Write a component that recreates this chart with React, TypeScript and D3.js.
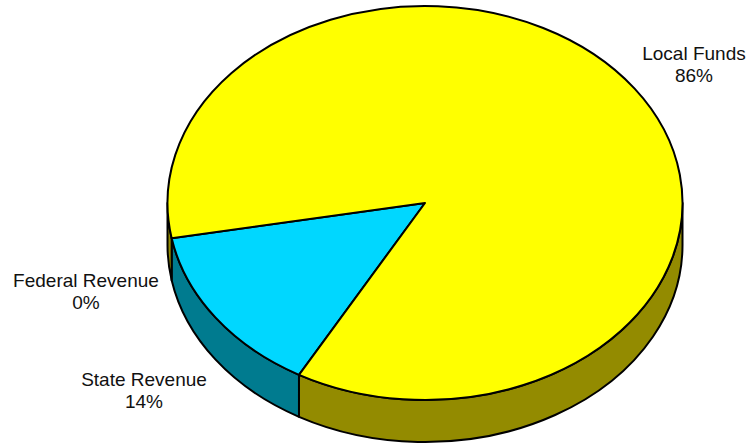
import React from "react";
import * as d3 from "d3";

const categories = ["State Revenue", "Federal Revenue", "Local Funds"];
const values = [14, 0, 86];
const percentLabels = ["14%", "0%", "86%"];
const topColors = ["#00D7FF", "#00D7FF", "#FFFF00"];
const sideColors = ["#007B8F", "#007B8F", "#938B00"];

const W = 747;
const H = 446;
const cx = 425;
const cy = 203;
const rx = 257.5;
const ry = 197;
const depth = 42;
const startDeg = 209.3;

const labelPos: Record<string, [number, number]> = {
  "Local Funds": [694, 60],
  "Federal Revenue": [86, 287],
  "State Revenue": [144, 386],
};

function pt(theta: number, dy: number): [number, number] {
  return [cx + rx * Math.cos(theta), cy + dy + ry * Math.sin(theta)];
}

export default function App() {
  const pie = d3
    .pie<number>()
    .sort(null)
    .value((d) => d)
    .startAngle((startDeg * Math.PI) / 180)
    .endAngle((startDeg * Math.PI) / 180 + 2 * Math.PI);
  const arcs = pie(values);

  const sides: { d: string; fill: string; key: string }[] = [];
  const tops: { d: string; fill: string; key: string }[] = [];

  arcs.forEach((a, i) => {
    const t0 = a.startAngle - Math.PI / 2;
    const t1 = a.endAngle - Math.PI / 2;
    if (t1 - t0 > 1e-6) {
      const p0 = pt(t0, 0);
      const p1 = pt(t1, 0);
      const large = t1 - t0 > Math.PI ? 1 : 0;
      tops.push({
        key: "t" + i,
        fill: topColors[i],
        d: `M${cx},${cy}L${p0[0]},${p0[1]}A${rx},${ry} 0 ${large} 1 ${p1[0]},${p1[1]}Z`,
      });
    }
    for (let k = 0; k < 3; k++) {
      const lo = k * 2 * Math.PI;
      const hi = lo + Math.PI;
      const a0 = Math.max(t0, lo);
      const a1 = Math.min(t1, hi);
      if (a1 - a0 > 1e-6) {
        const q0 = pt(a0, 0);
        const q1 = pt(a1, 0);
        const q2 = pt(a1, depth);
        const q3 = pt(a0, depth);
        sides.push({
          key: "s" + i + "_" + k,
          fill: sideColors[i],
          d: `M${q0[0]},${q0[1]}A${rx},${ry} 0 0 1 ${q1[0]},${q1[1]}L${q2[0]},${q2[1]}A${rx},${ry} 0 0 0 ${q3[0]},${q3[1]}Z`,
        });
      }
    }
  });

  return (
    <svg
      width={W}
      height={H}
      style={{ position: "absolute", left: 0, top: 0, background: "#fff" }}
      fontFamily="'Liberation Sans', Arial, sans-serif"
    >
      {sides.map((s) => (
        <path key={s.key} d={s.d} fill={s.fill} stroke="#000" strokeWidth={2} strokeLinejoin="round" />
      ))}
      {tops.map((s) => (
        <path key={s.key} d={s.d} fill={s.fill} stroke="#000" strokeWidth={2} strokeLinejoin="round" />
      ))}
      {categories.map((c, i) => {
        const [x, y] = labelPos[c];
        return (
          <text key={c} x={x} y={y} textAnchor="middle" fontSize={19} fill="#111">
            <tspan x={x}>{c}</tspan>
            <tspan x={x} dy={21.5}>{percentLabels[i]}</tspan>
          </text>
        );
      })}
    </svg>
  );
}
